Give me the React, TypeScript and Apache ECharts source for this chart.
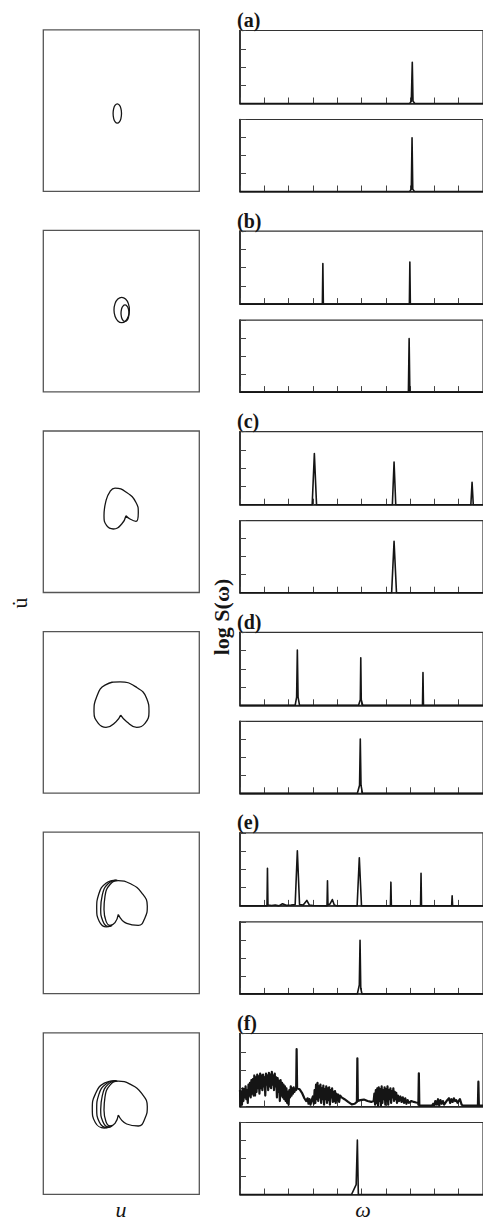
import React, { useEffect, useRef } from "react";
import * as echarts from "echarts";

// ---------- data ----------
const PANEL_LABELS = ["(a)", "(b)", "(c)", "(d)", "(e)", "(f)"];
const OMEGA_MAX = 10;
const LOGS_MAX = 4;
const U_HALF = 78;
const UDOT_HALF = 81;

// spectra: [omega, log S] points (upper = u, lower = reference)
const A_TOP = [[0, 0], [6.98, 0], [7.05, 0.12], [7.09, 2.26], [7.12, 0.12], [7.2, 0], [10, 0]];
const A_BOT = [[0, 0], [6.98, 0], [7.05, 0.12], [7.08, 2.98], [7.11, 0.12], [7.18, 0], [10, 0]];
const B_TOP = [[0, 0], [3.39, 0], [3.41, 2.22], [3.43, 0], [6.97, 0], [6.99, 2.31], [7.01, 0], [10, 0]];
const B_BOT = [[0, 0], [6.93, 0], [6.96, 2.97], [6.99, 0], [10, 0]];
const C_TOP = [[0, 0], [2.97, 0], [3.06, 2.8], [3.15, 0], [6.27, 0], [6.34, 2.34], [6.41, 0], [9.5, 0], [9.55, 1.23], [9.6, 0], [10, 0]];
const C_BOT = [[0, 0], [6.24, 0], [6.34, 2.86], [6.44, 0], [10, 0]];
const D_TOP = [[0, 0], [2.27, 0], [2.33, 0.45], [2.36, 3.03], [2.39, 0.45], [2.45, 0], [4.88, 0], [4.95, 0.3], [4.97, 2.6], [4.99, 0.3], [5.05, 0], [7.51, 0], [7.53, 1.79], [7.55, 0], [10, 0]];
const D_BOT = [[0, 0], [4.83, 0], [4.92, 0.45], [4.95, 3.01], [4.98, 0.45], [5.04, 0], [10, 0]];
const E_TOP = [[0, 0], [1.11, 0], [1.13, 2.06], [1.15, 0.05], [1.3, 0.02], [1.45, 0.05], [1.6, 0.0], [1.75, 0.12], [1.9, 0.03], [2.1, 0.05], [2.27, 0.08], [2.36, 3.02], [2.45, 0.08], [2.6, 0.05], [2.75, 0.3], [2.85, 0.05], [3.0, 0.02], [3.58, 0], [3.6, 1.38], [3.62, 0.05], [3.7, 0.1], [3.8, 0.35], [3.88, 0.05], [4.0, 0], [4.82, 0], [4.91, 2.64], [5.0, 0], [6.19, 0], [6.21, 1.3], [6.23, 0], [7.43, 0], [7.45, 1.79], [7.47, 0], [8.71, 0], [8.73, 0.55], [8.75, 0], [10, 0]];
const E_BOT = [[0, 0], [4.83, 0], [4.91, 0.5], [4.94, 2.98], [4.97, 0.3], [5.02, 0], [10, 0]];
const F_TOP = [
  [0.0, 0.9], [0.02, 0.0], [0.05, 0.8], [0.08, 0.1], [0.11, 1.0], [0.14, 0.3], [0.17, 0.95], [0.2, 0.5], [0.23, 1.1], [0.26, 0.4],
  [0.29, 0.9], [0.32, 0.2], [0.35, 1.2], [0.38, 0.6], [0.41, 1.3], [0.44, 0.5], [0.47, 1.45], [0.5, 0.7], [0.53, 1.5], [0.56, 0.6],
  [0.59, 1.7], [0.62, 0.6], [0.65, 1.6], [0.68, 0.8], [0.71, 1.75], [0.74, 1.0], [0.77, 1.65], [0.8, 0.7], [0.83, 1.8], [0.86, 1.0],
  [0.89, 1.7], [0.92, 0.9], [0.95, 1.75], [0.98, 1.1], [1.01, 1.6], [1.04, 0.6], [1.07, 1.8], [1.1, 1.2], [1.13, 1.7], [1.16, 0.9],
  [1.19, 1.85], [1.22, 1.1], [1.25, 1.75], [1.28, 1.0], [1.31, 1.9], [1.34, 1.2], [1.37, 1.7], [1.4, 0.9], [1.43, 1.8], [1.46, 1.1],
  [1.49, 1.6], [1.52, 0.5], [1.55, 1.55], [1.58, 0.8], [1.61, 1.4], [1.64, 0.3], [1.67, 1.45], [1.7, 0.6], [1.73, 1.3], [1.76, 0.5],
  [1.79, 1.2], [1.82, 0.4], [1.85, 1.1], [1.88, 0.3], [1.91, 1.0], [1.94, 0.2], [1.97, 0.8], [2.0, 0.1], [2.03, 0.9], [2.06, 0.5],
  [2.09, 1.1], [2.12, 0.6], [2.15, 1.0], [2.18, 0.7], [2.21, 1.05], [2.24, 0.8], [2.27, 0.95], [2.31, 0.9], [2.33, 3.14], [2.35, 1.0],
  [2.45, 0.95], [2.55, 0.75], [2.65, 0.45], [2.72, 0.3], [2.78, 0.45], [2.82, 0.15], [2.86, 0.4], [2.9, 0.1], [2.95, 0.35], [3.0, 0.55],
  [3.04, 0.15], [3.07, 0.9], [3.1, 0.2], [3.13, 1.2], [3.16, 0.4], [3.19, 1.3], [3.22, 0.3], [3.25, 1.1], [3.28, 0.5], [3.31, 1.2],
  [3.34, 0.2], [3.37, 1.0], [3.4, 0.4], [3.43, 1.15], [3.46, 0.1], [3.49, 0.95], [3.52, 0.4], [3.55, 1.1], [3.58, 0.2], [3.61, 1.0],
  [3.64, 0.35], [3.67, 1.05], [3.7, 0.1], [3.73, 0.9], [3.76, 0.5], [3.79, 1.0], [3.82, 0.25], [3.85, 0.8], [3.88, 0.3], [3.91, 0.85],
  [3.94, 0.2], [3.97, 0.7], [4.0, 0.35], [4.04, 0.65], [4.08, 0.25], [4.12, 0.6], [4.18, 0.5], [4.3, 0.4], [4.45, 0.25], [4.6, 0.12],
  [4.72, 0.15], [4.81, 0.25], [4.83, 2.64], [4.85, 0.3], [4.95, 0.35], [5.1, 0.38], [5.25, 0.3], [5.4, 0.25], [5.5, 0.3], [5.53, 0.7],
  [5.56, 0.1], [5.59, 0.9], [5.62, 0.2], [5.65, 1.0], [5.68, 0.05], [5.71, 1.05], [5.74, 0.3], [5.77, 0.95], [5.8, 0.05], [5.83, 1.1],
  [5.86, 0.2], [5.89, 0.9], [5.92, 0.4], [5.95, 1.05], [5.98, 0.1], [6.01, 0.95], [6.04, 0.3], [6.07, 1.1], [6.1, 0.1], [6.13, 0.9],
  [6.16, 0.4], [6.19, 1.0], [6.22, 0.2], [6.25, 0.85], [6.28, 0.5], [6.31, 1.0], [6.34, 0.3], [6.37, 0.8], [6.4, 0.4], [6.43, 0.75],
  [6.46, 0.2], [6.5, 0.6], [6.55, 0.3], [6.6, 0.55], [6.65, 0.25], [6.7, 0.5], [6.75, 0.2], [6.8, 0.45], [6.85, 0.15], [6.9, 0.35],
  [6.95, 0.2], [7.05, 0.3], [7.15, 0.25], [7.25, 0.22], [7.33, 0.2], [7.34, 0.1], [7.36, 1.82], [7.38, 0.05], [7.5, 0.05], [7.9, 0.05],
  [7.95, 0.15], [8.0, 0.05], [8.05, 0.3], [8.1, 0.1], [8.15, 0.4], [8.2, 0.05], [8.25, 0.35], [8.3, 0.15], [8.35, 0.3], [8.4, 0.1],
  [8.5, 0.3], [8.6, 0.45], [8.65, 0.2], [8.7, 0.4], [8.75, 0.25], [8.8, 0.45], [8.85, 0.3], [8.9, 0.35], [8.95, 0.2], [9.05, 0.4],
  [9.12, 0.1], [9.18, 0.05], [9.79, 0.05], [9.81, 1.36], [9.83, 0.05], [10, 0.05]
];
const F_BOT = [[0, 0], [4.59, 0], [4.78, 0.55], [4.83, 3.02], [4.87, 0], [10, 0]];

// phase portraits: [u, u-dot] loops
const A_LOOP = [[0.2, -3], [-0.36, 1.85], [-1.9, 5.4], [-4, 6.7], [-6.1, 5.4], [-7.64, 1.85], [-8.2, -3], [-7.64, -7.85], [-6.1, -11.4], [-4, -12.7], [-1.9, -11.4], [-0.36, -7.85], [0.2, -3]];
const B_OUTER = [[8.1, 1.2], [7.07, 7.55], [4.25, 12.2], [0.4, 13.9], [-3.45, 12.2], [-6.27, 7.55], [-7.3, 1.2], [-6.27, -5.15], [-3.45, -9.8], [0.4, -11.5], [4.25, -9.8], [7.07, -5.15], [8.1, 1.2]];
const B_INNER = [[7.7, -2.1], [7.16, 2.05], [5.7, 5.1], [3.7, 6.2], [1.7, 5.1], [0.24, 2.05], [-0.3, -2.1], [0.24, -6.25], [1.7, -9.3], [3.7, -10.4], [5.7, -9.3], [7.16, -6.25], [7.7, -2.1]];
const C_LOOP = [[4.7, -4], [8.7, -7.3], [14.7, -9.7], [17, -0.7], [14.7, 9.3], [5.4, 19.3], [-6.3, 23.7], [-11.3, 20.3], [-15.3, 11], [-17.3, -4], [-14.6, -14], [-8, -17.3], [0.4, -12.3], [4.7, -4]];
const D_LOOP = [[-0.6, -2.7], [5.4, -9.4], [15.4, -15], [23.7, -11], [27.7, 0.6], [25.4, 14], [15.4, 25], [-1.3, 30.6], [-16.3, 27.3], [-24.6, 15.6], [-27.3, 0.6], [-23, -11], [-15.3, -15], [-5.3, -9.4], [-0.6, -2.7]];
const E_MAIN = [[-3, -1.5], [5.4, -10.5], [17, -12.5], [23.7, -4.8], [26, 6.8], [20.4, 20.2], [8.7, 29.5], [-3, 32.5], [-11.3, 28.5], [-16.3, 16.8], [-17.3, 3.5], [-15.3, -8.2], [-11.3, -12.5], [-6.3, -9.8], [-3, -1.5]];
const E_LOOP2 = [[-4, 32.8], [-13, 29.5], [-19, 18], [-20.6, 4], [-18.5, -8], [-13, -13.5], [-9, -12.5]];
const E_LOOP3 = [[-5, 33], [-15, 30], [-22.5, 19], [-24.6, 4.5], [-22, -8.5], [-15, -14], [-10, -13]];
const F_MAIN = [[-3, -1.5], [5.4, -10.5], [17, -12.5], [23.7, -4.8], [26, 6.8], [20.4, 20.2], [8.7, 29.5], [-3, 32.5], [-11.3, 28.5], [-16.3, 16.8], [-17.3, 3.5], [-15.3, -8.2], [-11.3, -12.5], [-6.3, -9.8], [-3, -1.5]];
const F_LOOP2 = [[-4, 32.8], [-13, 29.5], [-19, 18], [-20.6, 4], [-18.5, -8], [-13, -13.5], [-9, -12.5]];
const F_LOOP3 = [[-5, 33], [-15, 30], [-22.5, 19], [-24.6, 4.5], [-22, -8.5], [-15, -14], [-10, -13]];
const F_LOOP4 = [[-6, 33], [-17, 30.5], [-26, 19.5], [-29, 5], [-26, -9], [-17, -14.5], [-10, -13]];

const SPEC_UPPER = [A_TOP, B_TOP, C_TOP, D_TOP, E_TOP, F_TOP];
const SPEC_LOWER = [A_BOT, B_BOT, C_BOT, D_BOT, E_BOT, F_BOT];
const PORTRAITS = [[A_LOOP], [B_OUTER, B_INNER], [C_LOOP], [D_LOOP], [E_MAIN, E_LOOP2, E_LOOP3], [F_MAIN, F_LOOP2, F_LOOP3, F_LOOP4]];

// ---------- layout ----------
const ROW_STEP = 200.6;
const INK = "#151515";
const SERIF = "'Liberation Serif', 'DejaVu Serif', serif";

export default function App() {
  const ref = useRef<HTMLDivElement>(null);
  useEffect(() => {
    if (!ref.current) return;
    const chart = echarts.init(ref.current, null, { renderer: "svg" });
    const grid: any[] = [];
    const xAxis: any[] = [];
    const yAxis: any[] = [];
    const series: any[] = [];
    const graphic: any[] = [];

    const specAxis = (gi: number, max: number) => ({
      type: "value",
      gridIndex: gi,
      min: 0,
      max,
      interval: 1,
      axisLine: { show: true, onZero: false, lineStyle: { color: "#222", width: 1.6 } },
      axisTick: { show: true, inside: true, length: 6, lineStyle: { color: "#444", width: 1 } },
      axisLabel: { show: false },
      splitLine: { show: false },
    });

    for (let k = 0; k < 6; k++) {
      const base = ROW_STEP * k;
      const gi = grid.length;
      grid.push({ left: 43.3, top: 29.8 + base, width: 156, height: 161.5, show: true, borderColor: "#555", borderWidth: 1.3, backgroundColor: "transparent" });
      xAxis.push({ type: "value", gridIndex: gi, min: -U_HALF, max: U_HALF, show: false });
      yAxis.push({ type: "value", gridIndex: gi, min: -UDOT_HALF, max: UDOT_HALF, show: false });
      PORTRAITS[k].forEach((loop) => {
        series.push({
          type: "line", xAxisIndex: gi, yAxisIndex: gi, data: loop, smooth: 0.5,
          symbol: "none", lineStyle: { color: INK, width: 1.3 }, silent: true,
        });
      });
      const specs = [SPEC_UPPER[k], SPEC_LOWER[k]];
      const tops = [30.5 + base, 119.5 + base];
      const heights = [73, 72];
      specs.forEach((d, j) => {
        const g = grid.length;
        grid.push({ left: 240, top: tops[j], width: 247, height: heights[j], show: true, borderColor: "#333", borderWidth: 1.2, backgroundColor: "transparent" });
        xAxis.push(specAxis(g, OMEGA_MAX));
        yAxis.push(specAxis(g, LOGS_MAX));
        series.push({
          type: "line", xAxisIndex: g, yAxisIndex: g, data: d, smooth: false,
          symbol: "none", lineStyle: { color: INK, width: k === 5 && j === 0 ? 2.2 : 1.6, join: "round" }, silent: true,
        });
      });
      graphic.push({
        type: "text", x: 237, y: 20 + base,
        style: { text: PANEL_LABELS[k], fontFamily: SERIF, fontSize: 20, fontWeight: "bold", fill: INK, align: "left", verticalAlign: "middle" },
      });
    }

    graphic.push(
      { type: "text", x: 19, y: 603, rotation: Math.PI / 2,
        style: { text: "u\u0307", fontFamily: SERIF, fontSize: 22, fill: INK, align: "center", verticalAlign: "middle" } },
      { type: "text", x: 221, y: 617, rotation: Math.PI / 2,
        style: { text: "log S(\u03c9)", fontFamily: SERIF, fontSize: 22, fontWeight: "bold", fill: INK, align: "center", verticalAlign: "middle" } },
      { type: "text", x: 121, y: 1209,
        style: { text: "u", fontFamily: SERIF, fontSize: 22, fontStyle: "italic", fill: INK, align: "center", verticalAlign: "middle" } },
      { type: "text", x: 363, y: 1209,
        style: { text: "\u03c9", fontFamily: SERIF, fontSize: 22, fontStyle: "italic", fill: INK, align: "center", verticalAlign: "middle" } }
    );

    chart.setOption({ animation: false, backgroundColor: "#fff", grid, xAxis, yAxis, series, graphic });
    return () => chart.dispose();
  }, []);
  return <div ref={ref} style={{ position: "absolute", left: 0, top: 0, width: 483, height: 1224 }} />;
}
